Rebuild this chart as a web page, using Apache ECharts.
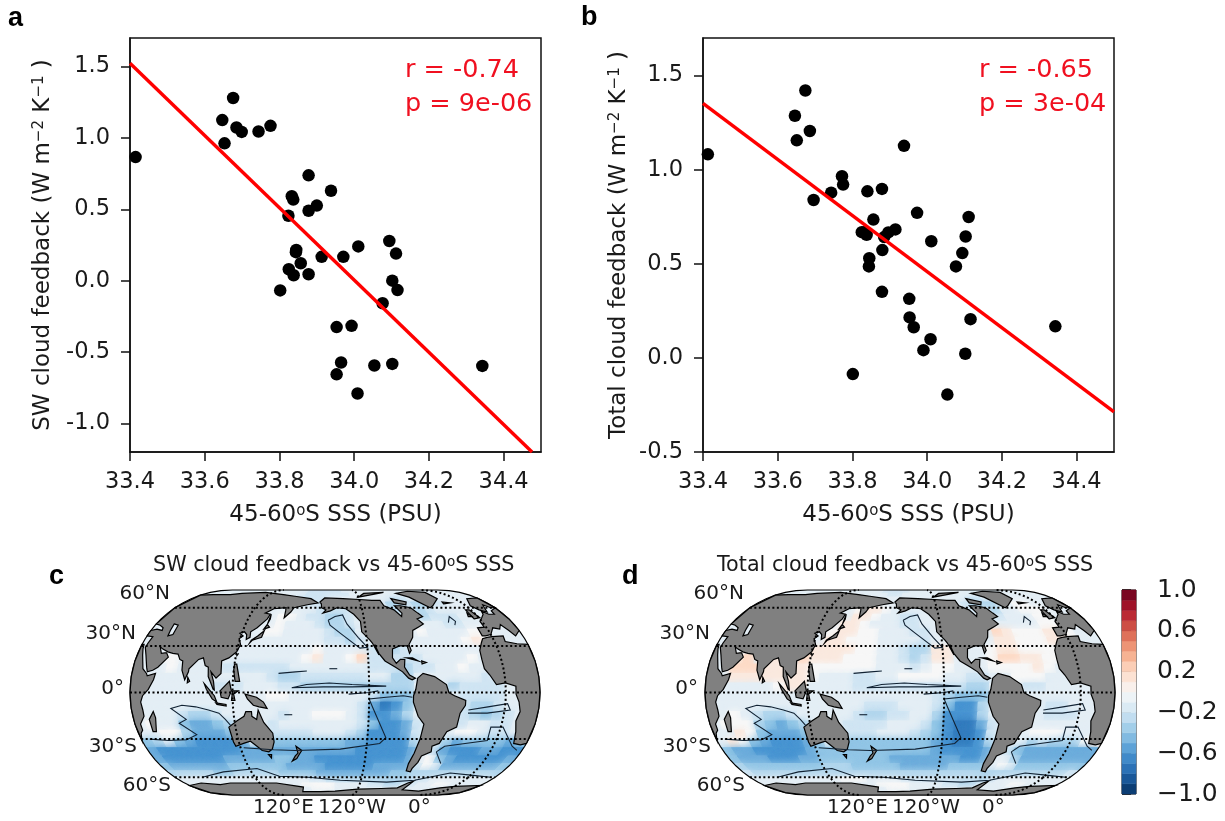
<!DOCTYPE html>
<html><head><meta charset="utf-8"><style>html,body{margin:0;padding:0;background:#fff}#c{width:1225px;height:821px}</style>
<script src="https://cdn.jsdelivr.net/npm/echarts@6/dist/echarts.min.js"></script></head><body><div id="c"></div>
<script>
// ---- scatter data ----
const xTicks=[33.4,33.6,33.8,34.0,34.2,34.4];
const yTicksA=[-1.0,-0.5,0.0,0.5,1.0,1.5];
const yTicksB=[-0.5,0.0,0.5,1.0,1.5];
const pointsA=[[33.415,0.866],[33.676,1.28],[33.647,1.125],[33.653,0.962],[33.685,1.073],[33.699,1.042],[33.744,1.045],[33.776,1.085],[33.878,0.738],[33.938,0.63],[33.833,0.592],[33.837,0.568],[33.878,0.49],[33.9,0.526],[33.824,0.455],[33.845,0.215],[33.844,0.2],[33.913,0.167],[33.971,0.167],[34.011,0.24],[34.094,0.278],[34.112,0.19],[34.102,0.0],[34.116,-0.066],[34.076,-0.158],[33.857,0.122],[33.825,0.08],[33.838,0.038],[33.878,0.045],[33.802,-0.068],[33.953,-0.325],[33.993,-0.316],[33.965,-0.573],[33.953,-0.656],[34.054,-0.594],[34.102,-0.583],[34.343,-0.597],[34.009,-0.79]];
const pointsB=[[33.413,1.082],[33.674,1.421],[33.646,1.287],[33.686,1.206],[33.651,1.156],[33.772,0.966],[33.775,0.921],[33.743,0.878],[33.696,0.839],[33.84,0.885],[33.879,0.898],[33.938,1.127],[33.973,0.771],[33.856,0.735],[34.111,0.749],[34.103,0.645],[34.011,0.62],[34.094,0.557],[34.077,0.486],[33.825,0.668],[33.832,0.668],[33.838,0.654],[33.915,0.683],[33.896,0.667],[33.885,0.642],[33.88,0.573],[33.845,0.53],[33.844,0.486],[33.879,0.351],[33.952,0.314],[33.953,0.215],[33.964,0.163],[34.116,0.206],[34.343,0.168],[34.009,0.099],[33.99,0.041],[34.102,0.022],[33.801,-0.086],[34.054,-0.195]];
const fitA=[[33.4,1.523],[34.476,-1.2]];
const fitB=[[33.4,1.353],[34.5,-0.287]];
// ---- map fields: correlation in tenths; rows lat 87..-87 (6 deg), columns lon 35..385 (10 deg) ----
const fieldLons=[35,45,55,65,75,85,95,105,115,125,135,145,155,165,175,185,195,205,215,225,235,245,255,265,275,285,295,305,315,325,335,345,355,365,375,385];
const fieldLats=[87,81,75,69,63,57,51,45,39,33,27,21,15,9,3,-3,-9,-15,-21,-27,-33,-39,-45,-51,-57,-63,-69,-75,-81,-87];
const fieldC=[
[-1,-1,-1,-1,-1,-1,-1,-1,-1,-1,-1,-1,-1,-1,-1,-1,-1,-1,-1,-1,-1,-1,-1,-1,-1,-1,-1,-1,-1,-1,-1,-1,-1,-1,-1,-1],
[-1,-1,-1,-1,-1,-1,-1,-1,-1,-1,-1,-1,-1,-1,-2,-2,-2,-2,-2,-1,-1,-1,-1,-1,-1,-1,-1,-1,-1,-1,-1,-1,-1,-1,-1,-1],
[-1,-1,-1,-1,-1,-1,-1,-1,-1,-1,-1,-1,-1,-1,-2,-2,-2,-2,-2,-2,-1,-1,-1,-1,-1,-1,-1,-1,-1,-1,-1,-1,-1,-1,-1,-1],
[-1,-1,-1,-1,-1,-1,-1,-1,-1,-1,-1,-1,-1,-2,-2,-2,-2,-1,-1,-1,-1,-1,-1,-1,-1,-2,-2,-1,-1,-1,-1,-1,-1,-1,-1,-1],
[-1,-1,-1,-1,-1,-1,-1,-1,-1,-1,-1,-1,-1,-2,-2,-2,-2,-2,-1,-1,-1,-1,-1,-1,-3,-3,-2,-3,-3,-2,-2,-1,-1,-1,-1,-1],
[-1,-1,-1,-1,-1,-1,-1,-1,-1,-1,-1,-1,-1,-1,-1,-1,-2,-2,-2,-2,-1,-1,-1,-1,-3,-2,-2,-3,-2,-1,-1,-1,-1,-1,-1,-1],
[-1,-1,-1,-1,-1,-1,-1,-1,-1,-1,-1,-1,0,0,-1,-2,-2,-3,-3,-2,-1,-1,-1,-1,-2,-2,-2,-3,-2,-2,-2,-1,-1,-1,-1,-1],
[-1,-1,-1,-1,-1,-1,-1,-1,-1,-1,-1,-1,0,-1,-1,-1,-2,-3,-3,-2,-1,-1,-1,-1,-1,-1,-1,-1,-1,-2,-2,-1,-1,-1,-1,-1],
[-1,-1,-1,-1,-1,-1,-1,-1,-1,-1,-1,0,0,-1,-1,-1,-1,-2,-3,-3,-1,-1,-1,-1,-1,-1,0,-1,-1,-1,-1,0,0,-1,-1,-1],
[-1,-1,-1,-1,-1,-1,-1,-1,-1,-1,-1,-1,-1,-1,-1,-1,-1,-2,-2,-3,-2,-1,-1,-1,-1,-1,-1,-1,-1,-1,0,1,0,-1,-1,-1],
[-1,-1,-1,-1,-1,-1,-1,-1,-1,-1,-1,-1,-1,-1,-1,-1,0,-1,-1,-1,-1,-2,-2,-3,-2,-1,-1,-1,-1,-1,-1,-1,-1,-1,-1,-1],
[-1,-1,0,0,-1,-1,-1,-1,-1,-1,-1,-1,-1,-1,-1,0,1,-1,-1,0,2,-2,-2,-2,-2,-2,-1,-1,-1,-1,0,-1,-1,-1,-1,-1],
[-1,-1,-1,0,-1,-1,-1,-1,-2,-2,-2,-2,-2,-2,-1,-1,-1,-1,-1,-1,-1,-2,-2,-2,-3,-2,-2,-1,-1,0,-1,-1,-1,-1,-1,-1],
[-1,-1,-1,-1,-1,-1,-1,-1,-1,-1,-1,-1,-2,-3,-3,-2,-2,-2,-2,-2,-2,-1,-1,-3,-3,-1,-1,-1,-1,-1,-1,-2,-1,-1,-1,-1],
[-1,-1,-1,-1,-1,-1,-1,-2,-2,-2,-1,-1,-1,-2,-2,-3,-3,-3,-3,-3,-3,-3,-3,-3,-3,-1,-1,-1,-3,-2,-2,-2,-2,-1,-1,-1],
[-1,-1,-1,-1,-1,-1,-1,-1,-1,-1,-1,-1,0,0,-1,-1,-1,-1,-1,-1,-1,-2,-4,-4,-4,-1,-1,-1,-1,-2,-2,-2,-2,-1,-1,-1],
[-1,-1,-1,-1,-1,-1,-1,-1,-1,-1,-1,-1,-1,-1,-1,-1,-1,-1,-1,-1,-2,-5,-7,-6,-4,-1,-1,-1,-1,-2,-3,-3,-2,-1,-1,-1],
[-1,-1,-1,-1,-2,-3,-3,-2,-1,-1,-1,-1,-1,-2,-1,-1,0,0,0,-1,-2,-6,-6,-5,-3,-1,-1,-1,-1,-2,-3,-4,-3,-2,-1,-1],
[-1,0,-1,-1,-4,-5,-5,-4,-3,-1,-1,-1,-2,-1,-1,-1,-1,-1,-1,-1,-2,-4,-6,-6,-5,-2,-1,-1,-1,-2,-1,-1,-2,-2,-1,-1],
[-1,-1,0,0,-3,-5,-5,-5,-4,-1,-1,-1,-2,-2,-2,-2,-1,-1,-1,-2,-3,-6,-6,-6,-5,-2,-1,-1,-1,0,0,-1,-2,-2,-1,-1],
[-4,-3,-1,-4,-5,-6,-6,-6,-6,-5,-1,-1,-4,-4,-4,-4,-4,-4,-4,-5,-5,-6,-6,-6,-6,-3,-1,-1,-3,-5,-4,-4,-4,-4,-5,-4],
[-5,-6,-6,-6,-6,-6,-6,-6,-6,-5,-5,-5,-5,-5,-5,-5,-5,-5,-5,-5,-6,-6,-6,-6,-6,-5,-1,-2,-5,-6,-6,-6,-5,-5,-6,-6],
[-5,-6,-6,-6,-6,-6,-6,-5,-5,-5,-5,-5,-4,-4,-5,-5,-6,-6,-6,-6,-6,-6,-6,-6,-6,-5,-1,0,-4,-5,-6,-6,-6,-6,-6,-5],
[-4,-5,-5,-5,-5,-5,-5,-4,-4,-4,-4,-4,-4,-5,-5,-5,-5,-6,-6,-6,-6,-6,-5,-5,-5,-5,-2,0,-1,-5,-5,-5,-5,-5,-5,-4],
[-3,-3,-3,-3,-3,-4,-4,-3,-3,-3,-3,-3,-4,-4,-4,-4,-5,-5,-5,-5,-5,-5,-5,-5,-4,-4,-3,-3,-3,-3,-3,-3,-3,-3,-3,-3],
[-1,-1,-1,-1,-1,-1,-1,-1,-1,-1,-1,-1,-1,-1,-1,-2,-2,-3,-3,-3,-3,-3,-3,-3,-3,-3,-3,-2,-2,-1,-1,-1,-1,-1,-1,-1],
[-1,-1,-1,-1,-1,-1,-1,-1,-1,-1,-1,-1,-1,-1,0,0,0,0,-1,-1,-1,-1,-2,-2,-3,-3,-2,-2,-1,-1,0,0,-1,-1,-1,-1],
[-1,-1,-1,-1,-1,-1,-1,-1,-1,-1,-1,-1,-1,-1,-1,0,0,0,-1,-1,-1,-1,-1,-1,-1,-1,-1,-1,-1,-1,-1,-1,-1,-1,-1,-1],
[-1,-1,-1,-1,-1,-1,-1,-1,-1,-1,-1,-1,-1,-1,-1,-1,-1,-1,-1,-1,-1,-1,-1,-1,-1,-1,-1,-1,-1,-1,-1,-1,-1,-1,-1,-1],
[-1,-1,-1,-1,-1,-1,-1,-1,-1,-1,-1,-1,-1,-1,-1,-1,-1,-1,-1,-1,-1,-1,-1,-1,-1,-1,-1,-1,-1,-1,-1,-1,-1,-1,-1,-1]
];
const fieldD=[
[-1,-1,-1,-1,-1,-1,-1,-1,-1,-1,-1,-1,-1,-1,-1,-1,-1,-1,-1,-1,-1,-1,-1,-1,-1,-1,-1,-1,-1,-1,-1,-1,-1,-1,-1,-1],
[-1,-1,-1,-1,-1,-1,-1,-1,-1,-1,-1,-1,-1,-1,-2,-2,-2,-2,-1,-1,-1,-1,-1,-1,-1,-1,-1,-1,-1,-1,-1,-1,-1,-1,-1,-1],
[-1,-1,-1,-1,-1,-1,-1,-1,-1,-1,-1,-1,-1,-1,-1,-2,-2,-1,-1,-1,-1,-1,-1,-1,-1,-1,-1,-1,-1,-1,-1,-1,-1,-1,-1,-1],
[-1,-1,-1,-1,-1,-1,-1,-1,-1,-1,-1,-1,-1,-1,-1,-1,-1,-1,-1,-1,-1,-1,-1,-1,-1,-2,-2,-1,-1,-1,-1,-1,-1,-1,-1,-1],
[-1,-1,-1,-1,-1,-1,-1,-1,-1,-1,-1,-1,-1,-1,-1,-1,-1,-1,-1,-1,-1,-1,-1,-1,-2,-3,-3,-3,-2,-1,0,0,-1,-1,-1,-1],
[-1,-1,-1,-1,-1,-1,-1,-1,-1,-1,-1,-1,0,1,1,0,-1,-1,-1,-1,-1,-1,-1,-1,-2,-2,-2,-3,-1,-1,0,0,0,-1,-1,-1],
[-1,-1,-1,-1,-1,-1,-1,-1,-1,-1,-1,-1,1,1,0,-1,-1,-2,-2,-1,-1,-1,-1,-1,-1,-1,-2,-2,-1,-1,-1,0,0,-1,-1,-1],
[-1,-1,-1,-1,-1,-1,-1,-1,-1,-1,-1,1,1,0,-1,-1,-1,-2,-2,-1,-1,-1,-1,-1,-1,0,-1,-1,-1,-1,-1,0,0,-1,-1,-1],
[-1,-1,-1,-1,-1,-1,-1,-1,-1,-1,0,1,1,0,0,-1,-1,-1,-2,-2,-1,-1,-1,-1,-1,-1,2,1,0,0,0,1,1,0,-1,-1],
[-1,-1,-1,-1,-1,-1,-1,-1,-1,-1,1,1,0,0,0,-1,-1,-1,-1,-2,-1,-1,-1,-1,-1,-1,1,1,0,0,0,1,1,0,-1,-1],
[-1,-1,-1,-1,-1,-1,-1,-1,-1,1,1,1,1,0,0,-1,-1,-2,-3,-3,1,1,-1,-1,-1,0,1,1,0,0,0,0,0,-1,-1,-1],
[-1,-1,1,2,-1,1,1,-1,2,1,1,1,0,0,0,-1,-1,-2,-3,-2,1,1,-1,-1,-1,0,2,2,1,1,0,0,-1,-1,-1,-1],
[-1,-1,2,2,2,1,1,1,1,0,0,0,0,0,0,-1,-1,-1,-2,-1,0,0,-1,-1,-1,0,0,0,0,1,0,-1,-1,-1,-1,-1],
[-1,-1,1,1,1,1,1,1,1,0,-1,-1,-1,-2,-2,-1,-1,0,0,0,0,-1,-1,-2,-2,-1,-1,0,0,0,-1,-1,-1,-1,-1,-1],
[-1,-1,-1,-1,-1,-1,0,1,1,-1,-1,-1,-1,-2,-2,-2,-2,-2,-2,-2,-2,-2,-2,-3,-3,-1,-1,-1,-2,-2,-1,-1,-1,-1,-1,-1],
[-1,-1,-1,-1,-1,-1,-1,-1,-1,-1,-1,-1,-1,-1,-1,-1,-1,-1,-1,-1,-2,-3,-4,-4,-4,-1,-1,-1,-1,-1,-1,-1,-1,-1,-1,-1],
[-1,-1,-1,-1,-1,-1,-1,-1,-1,-1,-1,-1,-1,-1,-2,-2,-2,-1,-1,-1,-2,-4,-6,-6,-3,-1,-1,-1,-1,-1,-2,-2,-1,-1,-1,-1],
[-1,-1,0,-1,-2,-3,-3,-2,-1,-1,-1,-1,-1,-2,-3,-3,-2,-2,-1,-1,-3,-6,-6,-6,-3,-1,-1,-1,-1,-1,-2,-2,-2,-1,-1,-1],
[-1,0,0,0,-3,-4,-5,-4,-3,-1,-1,-1,-2,-2,-2,-2,-1,-1,-1,-2,-4,-6,-7,-7,-5,-2,-1,-1,-1,-1,-1,-1,-1,-1,-1,-1],
[-1,-1,1,0,-4,-5,-5,-5,-4,-1,-1,-1,-2,-2,-2,-1,-1,-1,-2,-3,-4,-6,-7,-7,-6,-2,-1,-1,-1,0,0,0,-1,-1,-1,-1],
[-1,1,0,-4,-5,-6,-6,-6,-5,-4,-1,-1,-4,-4,-4,-4,-4,-4,-4,-4,-5,-6,-7,-7,-6,-3,-1,-1,-1,-3,-2,-3,-3,-3,0,1],
[-4,-5,-5,-6,-6,-6,-6,-6,-5,-4,-4,-4,-4,-4,-4,-4,-4,-4,-4,-4,-5,-6,-6,-6,-6,-5,-1,-2,-4,-5,-5,-5,-5,-5,-5,-5],
[-4,-5,-5,-5,-6,-6,-6,-5,-5,-4,-4,-4,-4,-4,-4,-4,-5,-5,-5,-5,-5,-5,-5,-6,-6,-5,-1,-1,-3,-5,-5,-5,-5,-5,-5,-5],
[-3,-4,-4,-4,-4,-4,-4,-4,-4,-3,-3,-3,-4,-4,-4,-4,-4,-5,-5,-5,-5,-5,-4,-4,-4,-4,-1,0,-1,-4,-4,-4,-4,-4,-4,-4],
[-2,-3,-3,-3,-3,-3,-3,-3,-3,-3,-3,-3,-3,-3,-3,-3,-3,-3,-3,-3,-3,-3,-3,-3,-3,-3,-3,-3,-3,-3,-3,-3,-3,-3,-3,-2],
[-1,-1,-1,-1,-1,-1,-1,-1,-1,-1,0,0,0,-1,-1,-1,-1,-2,-2,-2,-2,-2,-2,-2,-2,-2,-3,-2,-1,-1,-1,-1,-1,-1,-1,-1],
[-1,-1,-1,-1,-1,-1,-1,-1,-1,-1,-1,-1,-1,-1,0,0,0,0,-1,-1,-1,-1,-2,-2,-3,-3,-2,-1,-1,-1,0,0,-1,-1,-1,-1],
[-1,-1,-1,-1,-1,-1,-1,-1,-1,-1,-1,-1,-1,-1,-1,0,0,0,-1,-1,-1,-1,-1,-1,-1,-1,-1,-1,-1,-1,-1,-1,-1,-1,-1,-1],
[-1,-1,-1,-1,-1,-1,-1,-1,-1,-1,-1,-1,-1,-1,-1,-1,-1,-1,-1,-1,-1,-1,-1,-1,-1,-1,-1,-1,-1,-1,-1,-1,-1,-1,-1,-1],
[-1,-1,-1,-1,-1,-1,-1,-1,-1,-1,-1,-1,-1,-1,-1,-1,-1,-1,-1,-1,-1,-1,-1,-1,-1,-1,-1,-1,-1,-1,-1,-1,-1,-1,-1,-1]
];
// ---- land polygons [lon 30..390, lat] ----
const land=[
[[30,31],[32,31],[33,28],[35,24],[37,20],[39,15],[43,12],[44,10.5],[51,12],[50,8],[46,2],[41,-2],[39,-6],[40,-11],[40,-15],[35,-20],[35,-24],[32.5,-26],[30,-31],[30,-20],[30,-10],[30,0],[30,10],[30,20]],
[[49,-12],[50,-16],[47,-25],[44,-25],[44,-17]],
[[30,37],[36,36.5],[35,32],[34.5,29],[38,24],[42,16],[43.5,13],[48,14],[52,16],[59,22.5],[56,25.5],[51.5,25],[48,29.5],[51,28],[57,26],[62,25],[67,24.5],[70,21],[73,20],[74,14],[77.5,8],[80,13],[80,15],[87,21],[91,22],[94,17],[97,16],[98,10],[100,7],[103,2],[104,1.5],[103,7],[100,13],[105,9],[109,12],[108,20],[114,22],[120,26],[122,31],[119,35],[122,37],[118,39],[122,40],[125,38],[126,34.5],[129,36],[128,40],[133,43],[140,50],[141,54],[135,55],[142,59],[155,60],[156,57],[157,51],[162,56],[164,60],[178,63],[190,65],[180,70],[160,73],[140,76],[110,80],[80,78],[68,76],[45,76],[30,75],[30,60],[30,46],[35,45],[40,43],[41,41],[35,42],[30,41]],
[[130,32],[132,34],[136,35],[140,36],[141,41],[140,40],[136,37],[131,34]],[[140,42],[145,43.5],[142,45.5]],[[142,46],[143,50],[142,54]],[[120.5,23],[122,25],[121,25.5]],[[120,18],[122,18],[124,13],[126,7],[122,7],[120,14]],[[109,1],[113,4],[117,7],[119,1],[116,-4],[110,-3]],[[95,5.5],[104,-2],[106,-6],[102,-4],[97,2]],[[105,-6.5],[114,-7.5],[114,-8.5],[106,-7.5]],[[119,-5],[120,1],[125,1],[121,-1],[122,-5]],[[131,-1],[141,-3],[147,-6],[150,-10],[143,-9],[138,-8],[133,-4]],
[[114,-22],[122,-18],[129,-15],[131,-12],[136,-12],[136,-15],[140,-17],[142,-11],[146,-19],[153,-26],[153,-32],[150,-37],[146,-39],[140,-38],[136,-35],[131,-31.5],[124,-33],[116,-35],[115,-32]],
[[145,-41],[148,-41],[147,-43.5]],[[173,-35],[178,-38],[175,-41],[172,-44],[167,-46],[171,-42],[174,-40]],[[80,9.5],[82,7],[80,6]],
[[192,66],[197,71],[220,70],[240,69],[255,68],[265,68],[266,62],[275,58],[280,52],[282,55],[278,62],[285,62],[295,60],[299,55],[302,52],[295,50],[299,46],[294,44],[286,41],[284,36],[279,31],[280,27],[278,25],[277,30],[270,30],[263,28],[262,22],[265,18.5],[269,21],[273,21],[272,16],[276,11],[281,9],[278,8],[275,9],[270,13],[264,16],[255,20],[250,25],[247,31],[250,24],[245,32],[243,34],[236,40],[236,48],[230,54],[222,59],[212,60],[205,57],[197,55],[200,58],[195,60],[194,64]],
[[317,60],[322,62],[338,70],[340,80],[320,83],[295,78],[305,72]],[[280,70],[295,66],[292,63],[280,65]],[[240,72],[260,76],[280,80],[250,78]],[[275,22],[285,20],[280,22]],[[288,18],[292,19],[288,20]],
[[283,9],[288,12],[298,10],[308,5],[310,0],[315,-2],[325,-5],[325,-8],[321,-13],[320,-22],[312,-25],[308,-33],[302,-35],[303,-39],[295,-42],[294,-47],[291,-52],[291,-55],[286,-54],[285,-48],[287,-40],[289,-30],[290,-20],[284,-15],[279,-6],[279,-2],[281,2]],
[[390,31],[380,31.5],[370,33],[371,37],[360,36.5],[355,36],[350,35],[347,32],[343,27],[342.5,21],[343,15],[347,11],[352,5],[360,6],[369,4],[369,-1],[372,-6],[374,-12],[372,-18],[375,-25],[378,-33],[385,-34],[390,-33],[390,-20],[390,-10],[390,0],[390,10],[390,20]],
[[390,41],[383,37],[380,41],[376,45.5],[372,42],[366,43],[360,38],[354,37],[351,37],[351,43],[358,43.5],[358,48],[363,51],[368,54],[370,57],[374,54],[380,54],[381,57],[390,60],[390,50]],
[[390,60],[385,60],[381,63],[378,60],[375,56],[369,58],[365,62],[375,70],[390,71]],[[354,50],[361,51],[358,58],[354,58]],[[350,52],[354,52],[352,55]],[[337,64],[346,65],[338,66]],
[[30,-90],[120,-90],[210,-90],[300,-90],[390,-90],[390,-80],[390,-69],[360,-70],[345,-72],[325,-77],[300,-75],[302,-64],[297,-66],[290,-72],[270,-73],[240,-74],[210,-77],[190,-78],[165,-78],[170,-71],[140,-66],[110,-66],[85,-66],[70,-68],[50,-66],[30,-69],[30,-80]]
];
const caspian=[[48,46],[53,45],[54,38],[50,37],[49,41]];
const contours=[
[[38,-30],[55,-31],[72,-30.5],[83,-27],[70,-19.5],[77,-17],[65,-10],[75,-8],[87,-9],[98,-11],[107,-13],[112,-17],[116,-21]],
[[123,-36],[151,-37.5],[172,-38],[215,-37],[252,-33],[257,-29],[243,-9],[240,-4],[255,-3],[270,-2],[278,-3]],
[[203,49],[210,52],[218,53.4],[222,46],[232,36],[240,29],[233,28.5],[215,39],[205,45],[203,49]],
[[328,-11],[345,-9],[362,-7],[365,-11],[345,-13],[328,-13]],
[[308,-39],[314,-35],[352,-31],[351,-22],[362,-22],[378,-35],[385,-38]],
[[308,-39],[318,-48]],
[[61,-60],[90,-55],[128,-52],[148,-59],[180,-60],[216,-63],[271,-65],[302,-63],[335,-56],[360,-58],[385,-60]],
[[172,3],[185,5],[205,6],[225,5],[255,4],[225,3.5],[200,3.5],[172,3]],
[[160,12],[175,13],[185,13.5]],[[222,-1],[240,0],[248,1]],[[205,15],[212,15]],[[165,-14],[172,-14]],[[325,47],[330,52],[333,48],[330,45]]
];
const gratLats=[60,30,0,-30,-60];
const gratLons=[120,240,360];
const cbLevels=[-1,-0.9,-0.8,-0.7,-0.6,-0.5,-0.4,-0.3,-0.2,-0.1,0,0.1,0.2,0.3,0.4,0.5,0.6,0.7,0.8,0.9,1];
const cbTicks=[-1.0,-0.6,-0.2,0.2,0.6,1.0];
const palette=['#053061','#2166ac','#4b96d2','#93c6e6','#d0e5f3','#f7f7f7','#fddbc7','#f4a582','#d6604d','#b2182b','#67001f'];

function hex(c){return [1,3,5].map(i=>parseInt(c.substr(i,2),16));}
function colorOf(v){const t=Math.max(0,Math.min(1,(v+1)/2))*10,i=Math.min(9,Math.floor(t)),f=t-i,a=hex(palette[i]),b=hex(palette[i+1]);
 return 'rgb('+a.map((x,k)=>Math.round(x+(b[k]-x)*f)).join(',')+')';}
const CENTER=210;
function theta(lat){const p=lat*Math.PI/180,r=(2+Math.PI/2)*Math.sin(p);let t=p/2;
 for(let i=0;i<30;i++){const s=Math.sin(t),c=Math.cos(t);t-=(t+s*c+2*s-r)/(1+c*c-s*s+2*c);}
 return t;}
const projection={project(pt){const t=theta(pt[1]),l=(pt[0]-CENTER)*Math.PI/180;return [0.42223*l*(1+Math.cos(t)),-1.3265*Math.sin(t)];},
 unproject(pt){const s=Math.max(-1,Math.min(1,-pt[1]/1.3265)),t=Math.asin(s);
  const lat=Math.asin((t+s*Math.cos(t)+2*s)/(2+Math.PI/2))*180/Math.PI;
  return [pt[0]/(0.42223*(1+Math.cos(t)))*180/Math.PI+CENTER,lat];}};
const frame=[];
for(let a=-90;a<=90;a+=5)frame.push([390,a]);
for(let a=90;a>=-90;a-=5)frame.push([30,a]);
const features=[{type:'Feature',properties:{name:'frame'},geometry:{type:'Polygon',coordinates:[frame]}}];
land.forEach((p,i)=>{const ring=p.concat([p[0]]);const rings=[ring];if(i===2)rings.push(caspian.concat([caspian[0]]));
 features.push({type:'Feature',properties:{name:'land'+i},geometry:{type:'Polygon',coordinates:rings}});});
echarts.registerMap('world',{type:'FeatureCollection',features});
const regions=[{name:'frame',itemStyle:{areaColor:'rgba(0,0,0,0)',borderColor:'#000',borderWidth:1.2}}];

const lab={fontFamily:'DejaVu Sans',color:'#1a1a1a'};
const TS=22.5, NS=23;
const richName={a:{fontFamily:'DejaVu Sans',color:'#1a1a1a',fontSize:NS},s:{fontFamily:'DejaVu Sans',color:'#1a1a1a',fontSize:15,verticalAlign:'top'}};
function axisX(idx){return {type:'value',gridIndex:idx,min:33.4,max:34.5,name:'{a|45-60}{s|o}{a|S SSS (PSU)}',nameLocation:'middle',nameGap:52,
 nameTextStyle:{rich:richName},axisLine:{onZero:false,lineStyle:{color:'#111',width:1.5}},splitLine:{show:false},
 axisTick:{length:9,customValues:xTicks,lineStyle:{color:'#111',width:1.5}},
 axisLabel:{...lab,fontSize:TS,margin:19,customValues:xTicks,formatter:v=>v.toFixed(1)}};}
function axisY(idx,min,ticks,name){return {type:'value',gridIndex:idx,min,max:1.7,name,nameLocation:'middle',nameGap:idx?72:75,
 nameTextStyle:{rich:richName},axisLine:{onZero:false,lineStyle:{color:'#111',width:1.5}},splitLine:{show:false},
 axisTick:{length:9,customValues:ticks,lineStyle:{color:'#111',width:1.5}},
 axisLabel:{...lab,fontSize:TS,margin:20,customValues:ticks,formatter:v=>v.toFixed(1)}};}
const clipRing=frame;
function fieldSeries(field,geoIndex){
 return {type:'custom',coordinateSystem:'geo',geoIndex,z:2,silent:true,animation:false,data:[[210,0]],progressive:0,
  renderItem(p,api){const children=[];
   field.forEach((row,r)=>row.forEach((v,c)=>{const lo=fieldLons[c],la=fieldLats[r];
    const pts=[[lo-5,la-3],[lo+5,la-3],[lo+5,la+3],[lo-5,la+3]].map(q=>api.coord(q));const col=colorOf(v/10);
    children.push({type:'polygon',shape:{points:pts},style:{fill:col,stroke:col,lineWidth:1,shadowColor:col,shadowBlur:7}});}));
   return {type:'group',clipPath:{type:'polygon',shape:{points:clipRing.map(q=>api.coord(q))}},children};}};}
function lineSeries(lines,geoIndex,style){return {type:'custom',coordinateSystem:'geo',geoIndex,z:4,silent:true,animation:false,progressive:0,
  data:lines.map((l,i)=>[l[0][0],l[0][1],i]),
  renderItem(p,api){const l=lines[api.value(2)];return {type:'polyline',shape:{points:l.map(q=>api.coord(q))},style:Object.assign({fill:null},style)};}};}
const grat=[];
gratLats.forEach(a=>{const l=[];for(let o=30;o<=390;o+=5)l.push([o,a]);grat.push(l);});
gratLons.forEach(o=>{const l=[];for(let a=-90;a<=90;a+=5)l.push([o,a]);grat.push(l);});
function geoOpt(left){return {map:'world',projection,left,top:590,width:410,height:205,roam:false,silent:true,z:3,
  label:{show:false},regions,itemStyle:{areaColor:'#808080',borderColor:'#000',borderWidth:1.2},emphasis:{disabled:true},select:{disabled:true}};}
function txt(x,y,s,o){return {type:'text',x,y,silent:true,z:20,style:Object.assign({text:s,fontFamily:'DejaVu Sans',fontSize:20,fill:'#1a1a1a',verticalAlign:'middle'},o||{})};}
const richTitle={a:{fontFamily:'DejaVu Sans',fill:'#1a1a1a',fontSize:20.7},s:{fontFamily:'DejaVu Sans',fill:'#1a1a1a',fontSize:13.5,verticalAlign:'top'}};
function mapLabels(dx){const r={align:'right'};return [
 txt(170+dx,594,'60°N',r),txt(136+dx,634,'30°N',r),txt(124+dx,689,'0°',r),txt(137+dx,747,'30°S',r),txt(171+dx,786,'60°S',r),
 txt(253+dx,808,'120°E'),txt(318+dx,808,'120°W'),txt(408+dx,808,'0°')];}
const bold={fontFamily:'Liberation Sans',fontWeight:'bold',fontSize:27,fill:'#000'};
const red={fontSize:25.5,fill:'#f01020'};
const chart=echarts.init(document.getElementById('c'),null,{renderer:'canvas'});
chart.setOption({animation:false,backgroundColor:'#fff',
 grid:[{left:130,top:38,width:411,height:414,show:true,borderColor:'#111',borderWidth:1.5,backgroundColor:'#fff'},
       {left:703,top:38,width:411,height:414,show:true,borderColor:'#111',borderWidth:1.5,backgroundColor:'#fff'},
       {left:1122,top:590,width:14,height:204,show:true,borderColor:'#111',borderWidth:1}],
 xAxis:[axisX(0),axisX(1),{type:'value',gridIndex:2,min:0,max:1,show:false}],
 yAxis:[axisY(0,-1.2,yTicksA,'{a|SW cloud feedback (W m}{s|−2}{a| K}{s|−1}{a| )}'),axisY(1,-0.5,yTicksB,'{a|Total cloud feedback (W m}{s|−2}{a| K}{s|−1}{a| )}'),
  {type:'value',gridIndex:2,position:'right',min:-1,max:1,splitLine:{show:false},axisLine:{show:false},
   axisTick:{length:9,customValues:cbTicks,lineStyle:{color:'#111',width:1.5}},
   axisLabel:{...lab,fontSize:25,margin:21,customValues:cbTicks,formatter:v=>v.toFixed(1).replace('-','−')}}],
 geo:[geoOpt(130),geoOpt(705)],
 series:[
  {type:'scatter',xAxisIndex:0,yAxisIndex:0,data:pointsA,symbolSize:12.5,itemStyle:{color:'#000',opacity:1},z:3},
  {type:'line',xAxisIndex:0,yAxisIndex:0,data:fitA,showSymbol:false,lineStyle:{color:'#f00',width:3.4},z:4,clip:true},
  {type:'scatter',xAxisIndex:1,yAxisIndex:1,data:pointsB,symbolSize:12.5,itemStyle:{color:'#000',opacity:1},z:3},
  {type:'line',xAxisIndex:1,yAxisIndex:1,data:fitB,showSymbol:false,lineStyle:{color:'#f00',width:3.4},z:4,clip:true},
  fieldSeries(fieldC,0),fieldSeries(fieldD,1),
  lineSeries(contours,0,{stroke:'#123',lineWidth:1.1}),lineSeries(contours,1,{stroke:'#123',lineWidth:1.1}),
  lineSeries(grat,0,{stroke:'#000',lineWidth:2,lineDash:[2,2.5]}),lineSeries(grat,1,{stroke:'#000',lineWidth:2,lineDash:[2,2.5]}),
  {type:'custom',coordinateSystem:'cartesian2d',xAxisIndex:2,yAxisIndex:2,silent:true,data:cbLevels.slice(0,-1).map((v,i)=>[v,cbLevels[i+1]]),
   encode:{y:[0,1]},renderItem(p,api){const a=api.coord([0,api.value(0)]),b=api.coord([1,api.value(1)]);const col=colorOf((api.value(0)+api.value(1))/2);
    return {type:'rect',shape:{x:a[0],y:b[1],width:b[0]-a[0],height:a[1]-b[1]},style:{fill:col,stroke:col,lineWidth:0.5}};}}
 ],
 graphic:[
  txt(8,19,'a',bold),txt(581,18,'b',bold),txt(49,577,'c',bold),txt(622,577,'d',bold),
  txt(405,70,'r = -0.74',red),txt(405,104,'p = 9e-06',red),
  txt(979,70,'r = -0.65',red),txt(979,104,'p = 3e-04',red),
  txt(153,566,'{a|SW cloud feedback vs 45-60}{s|o}{a|S SSS}',{rich:richTitle}),
  txt(717,566,'{a|Total cloud feedback vs 45-60}{s|o}{a|S SSS}',{rich:richTitle}),
  ...mapLabels(0),...mapLabels(574)
 ]});
</script></body></html>
